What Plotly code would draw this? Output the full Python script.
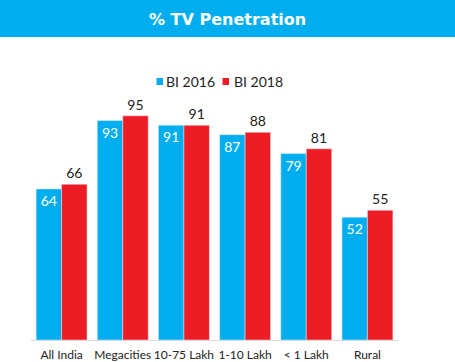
import plotly.graph_objects as go

categories = ["All India", "Megacities", "10-75 Lakh", "1-10 Lakh", "< 1 Lakh", "Rural"]
bi_2016 = [64, 93, 91, 87, 79, 52]
bi_2018 = [66, 95, 91, 88, 81, 55]
series_names = ["BI 2016", "BI 2018"]
title_text = "% TV Penetration"

BLUE = "#00AEEF"
RED = "#ED1C24"
FONT = "Lato, Open Sans, sans-serif"

W, H = 455, 362
L, R, T, B = 31, 57, 104, 22
pw, ph = W - L - R, H - T - B

def px_x(x):
    return (x - L) / pw

def px_y(y):
    return 1 + (T - y) / ph

fig = go.Figure()
fig.add_trace(go.Bar(
    name=series_names[0], x=categories, y=bi_2016, marker_color=BLUE,
    text=bi_2016, textposition="inside", insidetextanchor="end",
    textfont=dict(color="white", size=14, family=FONT),
    textangle=0,
))
fig.add_trace(go.Bar(
    name=series_names[1], x=categories, y=bi_2018, marker_color=RED,
    text=bi_2018, textposition="outside",
    textfont=dict(color="#222222", size=14, family=FONT),
    textangle=0, cliponaxis=False,
))

shapes = [dict(type="rect", xref="paper", yref="paper",
               x0=px_x(0), x1=px_x(455), y0=px_y(37), y1=px_y(0),
               fillcolor=BLUE, line=dict(width=0), layer="below")]
annotations = [dict(text="<b>" + title_text + "</b>", xref="paper", yref="paper",
                    x=px_x(227), y=px_y(19), xanchor="center", yanchor="middle",
                    showarrow=False,
                    font=dict(color="white", size=16, family="DejaVu Sans"))]

# custom legend (small squares + labels)
for name, color, sx, tx in [(series_names[0], BLUE, 156.5, 164),
                            (series_names[1], RED, 222.5, 232)]:
    shapes.append(dict(type="rect", xref="paper", yref="paper",
                       x0=px_x(sx), x1=px_x(sx + 6.5), y0=px_y(85), y1=px_y(78),
                       fillcolor=color, line=dict(width=0)))
    annotations.append(dict(text=name, xref="paper", yref="paper",
                            x=px_x(tx), y=px_y(81.5), xanchor="left", yanchor="middle",
                            showarrow=False,
                            font=dict(size=14, family=FONT, color="#222222")))

fig.update_layout(
    width=W, height=H,
    margin=dict(l=L, r=R, t=T, b=B, pad=0, autoexpand=False),
    paper_bgcolor="white", plot_bgcolor="white",
    barmode="group", bargap=0.167, bargroupgap=0,
    font=dict(family=FONT, size=12, color="#222222"),
    showlegend=False,
    xaxis=dict(showline=True, linecolor="#d9d9d9", linewidth=1,
               ticks="", tickfont=dict(size=12, family=FONT, color="#222222"),
               ticklabelstandoff=4, showgrid=False, automargin=False),
    yaxis=dict(range=[0, 100], visible=False, showgrid=False, automargin=False),
    shapes=shapes,
    annotations=annotations,
)

fig.write_html("out.html", config={"displayModeBar": False},
               post_script="document.body.style.margin='0';")
